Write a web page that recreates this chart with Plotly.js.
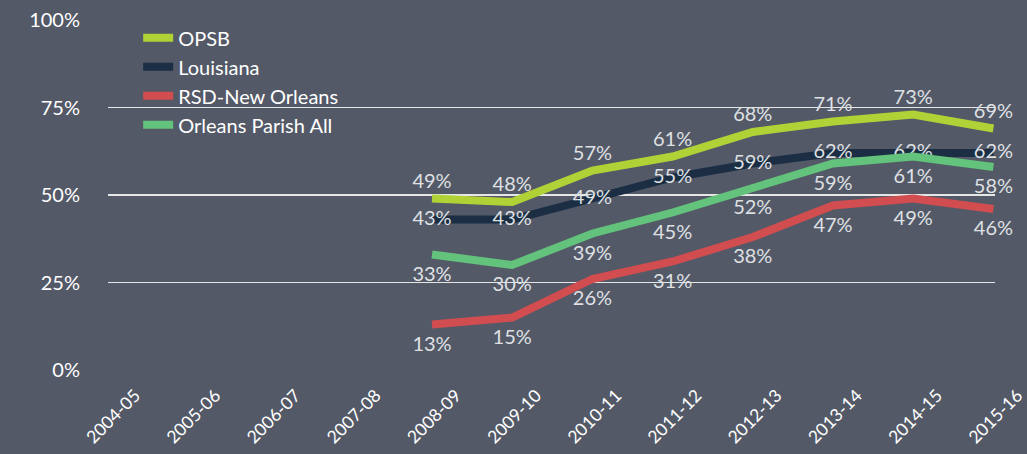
<!DOCTYPE html>
<html>
<head>
<meta charset="utf-8">
<script src="https://cdn.plot.ly/plotly-3.0.1.min.js"></script>
<style>
html,body{margin:0;padding:0;background:#535967;}
#chart{width:1027px;height:454px;}
</style>
</head>
<body>
<div id="chart"></div>
<script>
const years = ["2004-05","2005-06","2006-07","2007-08","2008-09","2009-10","2010-11","2011-12","2012-13","2013-14","2014-15","2015-16"];
const dataYears = ["2008-09","2009-10","2010-11","2011-12","2012-13","2013-14","2014-15","2015-16"];
const opsb = [49, 48, 57, 61, 68, 71, 73, 69];
const louisiana = [43, 43, 49, 55, 59, 62, 62, 62];
const rsd = [13, 15, 26, 31, 38, 47, 49, 46];
const orleansAll = [33, 30, 39, 45, 52, 59, 61, 58];
const tickVals = [0, 25, 50, 75, 100];
const tickText = ["0%", "25%", "50%", "75%", "100%"];

const font = "Lato, 'Open Sans', sans-serif";
function tr(name, vals, color, pos, msize) {
  return {
    type: "scatter", mode: "lines+markers+text", name: name,
    x: dataYears, y: vals,
    text: vals.map(v => v + "%"),
    textposition: pos,
    textfont: {family: font, size: 20, color: "#dfe0e3"},
    line: {color: color, width: 8},
    marker: {size: msize, color: "rgba(0,0,0,0)", line: {width: 0}},
    cliponaxis: false,
    hoverinfo: "skip"
  };
}
const traces = [
  tr("OPSB", opsb, "#b1d236", "top center", 8),
  tr("Louisiana", louisiana, "#1b2e44", "middle center", 1),
  tr("RSD-New Orleans", rsd, "#d14d4f", "bottom center", 16),
  tr("Orleans Parish All", orleansAll, "#63c27b", "bottom center", 16)
];
const layout = {
  width: 1027, height: 454,
  paper_bgcolor: "#535967", plot_bgcolor: "#535967",
  margin: {l: 108, r: 32, t: 20, b: 84},
  showlegend: true,
  legend: {x: 0.034, y: 1.005, xanchor: "left", yanchor: "top", bgcolor: "rgba(0,0,0,0)",
    font: {family: font, size: 20, color: "#ffffff"}, tracegroupgap: 0, itemwidth: 30},
  xaxis: {type: "category", categoryorder: "array", categoryarray: years,
    range: [-0.04, 11.02], showgrid: false, zeroline: false, showline: false,
    tickangle: -45, ticks: "", ticklabelshift: 24, ticklabelstandoff: 11,
    tickfont: {family: font, size: 17.5, color: "#ffffff"}},
  yaxis: {range: [0, 100], tickvals: tickVals, ticktext: tickText,
    showgrid: true, gridcolor: "#e6e6e6", gridwidth: 1.5, zeroline: false, showline: false,
    ticks: "", ticklabelstandoff: 27, tickfont: {family: font, size: 20, color: "#ffffff"}},
  font: {family: font}
};
Plotly.newPlot("chart", traces, layout, {displayModeBar: false, staticPlot: true});
</script>
</body>
</html>
